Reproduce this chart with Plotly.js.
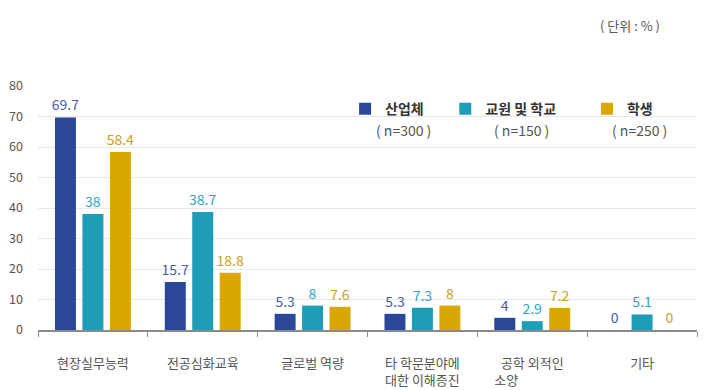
<!DOCTYPE html>
<html>
<head>
<meta charset="utf-8">
<script src="https://cdn.plot.ly/plotly-3.0.1.min.js"></script>
<style>
  html, body { margin: 0; padding: 0; background: #ffffff; }
  #chart { width: 704px; height: 390px; }
</style>
</head>
<body>
<div id="chart"></div>
<script>
// Categories (x axis) and per-group survey results, in percent.
// Short second lines are padded with ideographic spaces so both lines start together.
const categories = [
  "현장실무능력",
  "전공심화교육",
  "글로벌 역량",
  "타 학문분야에<br>대한 이해증진",
  "공학 외적인<br>소양\u3000\u3000\u3000\u3000",
  "기타"
];
const industry = [69.7, 15.7, 5.3, 5.3, 4, 0];
const teachers = [38, 38.7, 8, 7.3, 2.9, 5.1];
const students = [58.4, 18.8, 7.6, 8, 7.2, 0];

const seriesNames = ["산업체", "교원 및 학교", "학생"];
const sampleSizes = ["( n=300 )", "( n=150 )", "( n=250 )"];
const yTicks = [0, 10, 20, 30, 40, 50, 60, 70, 80];

const FONT = "'Noto Sans CJK KR', 'Noto Sans', sans-serif";
const barColors = ["#2B479A", "#1E9DB7", "#DAA600"];
const labelColors = ["#4A5DAA", "#2AA8C2", "#C9A21E"];
const legendIds = ["legend", "legend2", "legend3"];

const seriesValues = [industry, teachers, students];
const traces = seriesValues.map((vals, i) => ({
  type: "bar",
  name: "<b>" + seriesNames[i] + "</b>",
  legend: legendIds[i],
  x: categories,
  y: vals,
  marker: { color: barColors[i] },
  text: vals.map(v => String(v)),
  textposition: "outside",
  constraintext: "none",
  cliponaxis: false,
  textfont: { family: FONT, size: 14, color: labelColors[i] },
  hoverinfo: "x+y"
}));

// One small legend per series so each entry can sit above its own caption
const legendX = [0.466, 0.618, 0.833];
function legendBox(i) {
  return {
    orientation: "h",
    x: legendX[i], xanchor: "left",
    y: 0.905, yanchor: "middle",
    font: { family: FONT, size: 14, color: "#333333" },
    itemwidth: 30,
    bgcolor: "rgba(0,0,0,0)"
  };
}

// Sample-size captions under each legend entry, plus the unit note
const nCenters = [0.554, 0.734, 0.912];
const annotations = sampleSizes.map((t, i) => ({
  xref: "paper", yref: "paper",
  x: nCenters[i], y: 0.818,
  text: t, showarrow: false,
  xanchor: "center", yanchor: "middle",
  font: { family: FONT, size: 14, color: "#555555" }
}));
annotations.push({
  xref: "paper", yref: "paper",
  x: 0.898, y: 1.25,
  text: "( 단위 : % )", showarrow: false,
  xanchor: "center", yanchor: "middle",
  font: { family: FONT, size: 13, color: "#555555" }
});

const layout = {
  width: 704,
  height: 390,
  margin: { l: 38, r: 7, t: 86, b: 60 },
  paper_bgcolor: "#ffffff",
  plot_bgcolor: "#ffffff",
  font: { family: FONT, color: "#555555" },
  barmode: "group",
  bargap: 0.25,
  bargroupgap: 0.236,
  showlegend: true,
  legend: legendBox(0),
  legend2: legendBox(1),
  legend3: legendBox(2),
  xaxis: {
    type: "category",
    showline: true,
    linecolor: "#8a8a8a",
    linewidth: 1.5,
    ticks: "outside",
    tickson: "boundaries",
    ticklen: 5,
    tickcolor: "#8a8a8a",
    ticklabelstandoff: 21,
    tickfont: { family: FONT, size: 13, color: "#555555" },
    showgrid: false,
    zeroline: false
  },
  yaxis: {
    range: [0, 80],
    tickvals: yTicks,
    ticktext: yTicks.map(String),
    showgrid: true,
    gridcolor: "#e8e8e8",
    gridwidth: 1,
    showline: false,
    zeroline: false,
    ticks: "",
    ticklabelstandoff: 14,
    tickfont: { family: FONT, size: 12.5, color: "#555555" }
  },
  annotations: annotations
};

Plotly.newPlot("chart", traces, layout, { displayModeBar: false, staticPlot: true });
</script>
</body>
</html>
